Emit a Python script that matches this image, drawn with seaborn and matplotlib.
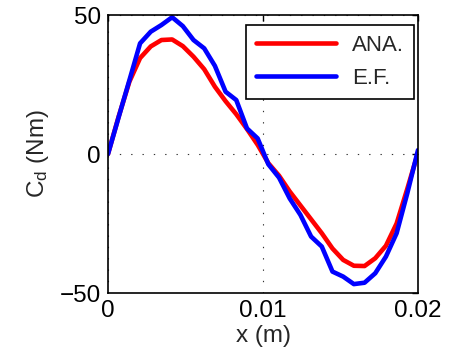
import numpy as np
import pandas as pd
import matplotlib
matplotlib.use("Agg")
import matplotlib.pyplot as plt
import seaborn as sns

# ---- data ----
n_int = 29
x_m = [i * 0.02 / n_int for i in range(n_int + 1)]
ana = [0, 13.5, 26, 34.5, 38.7, 41.0, 41.2, 38.8, 35.0, 30.5,
       24.2, 19.0, 14.3, 9.0, 3.3, -3.3, -7.8, -13.5, -18.5, -23.5,
       -28.5, -34.0, -38.1, -40.2, -40.3, -37.5, -33.0, -25.0, -12.5, 0.5]
ef = [0, 13.3, 26.5, 39.8, 44.0, 46.4, 49.2, 46.0, 41.0, 38.0,
      31.7, 22.4, 19.4, 9.2, 5.6, -3.7, -8.5, -16.0, -21.9, -29.7,
      -33.3, -42.3, -44.1, -46.8, -46.3, -42.9, -36.9, -28.5, -14.1, 1.4]
labels = ["ANA.", "E.F."]
colors = ["#ff0000", "#0000ff"]
xticks = [0, 0.01, 0.02]
xtick_labels = ["0", "0.01", "0.02"]
yticks = [-50, 0, 50]

sns.set_style("white")
plt.rcParams['font.family'] = ['Liberation Sans', 'DejaVu Sans']
plt.rcParams['axes.unicode_minus'] = True

df = pd.DataFrame({
    "x": x_m * 2,
    "C": ana + ef,
    "series": [labels[0]] * len(ana) + [labels[1]] * len(ef),
})

fig = plt.figure(figsize=(4.55, 3.63), dpi=100)
ax = fig.add_axes([108/455, 1 - 293/363, 310/455, 278/363])

sns.lineplot(data=df, x="x", y="C", hue="series", palette=colors,
             linewidth=3.3, ax=ax, sort=False, estimator=None, legend=True)

ax.set_xlim(0, 0.02)
ax.set_ylim(-50, 50)
ax.set_xticks(xticks)
ax.set_xticklabels(xtick_labels)
ax.set_yticks(yticks)

# dotted grid
ax.grid(True, color="#333333", linestyle=(0, (1.2, 9)), linewidth=0.8)
ax.set_axisbelow(True)

for s in ax.spines.values():
    s.set_color("black")
    s.set_linewidth(1.2)
    s.set_visible(True)

ax.tick_params(axis="both", direction="in", length=4, width=1,
               top=True, right=True, labelsize=17.5, pad=5, colors="black")

ax.set_xlabel("x (m)", fontsize=17.5, labelpad=2)
ax.set_ylabel(r"$\mathregular{C_d}$ (Nm)", fontsize=17.5, labelpad=6)

leg = ax.legend(loc="upper right", bbox_to_anchor=(0.987, 0.964),
                borderaxespad=0, fontsize=16, frameon=True, fancybox=False,
                handlelength=3.6, handletextpad=0.7, labelspacing=0.55,
                borderpad=0.45)
leg.get_frame().set_edgecolor("black")
leg.get_frame().set_linewidth(1.2)
leg.get_frame().set_alpha(1)
for line in leg.get_lines():
    line.set_linewidth(3.3)

fig.savefig("out.png", dpi=100)
